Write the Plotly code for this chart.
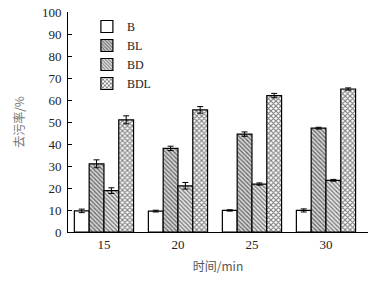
import plotly.graph_objects as go

times = [15, 20, 25, 30]
tick_labels = ["15", "20", "25", "30"]
series_names = ["B", "BL", "BD", "BDL"]
B = [9.6, 9.5, 9.8, 9.8]
BL = [31.0, 38.0, 44.5, 47.2]
BD = [18.8, 21.0, 21.8, 23.5]
BDL = [51.0, 55.5, 62.0, 65.0]
B_err = [0.8, 0.4, 0.3, 0.7]
BL_err = [1.8, 1.0, 1.0, 0.4]
BD_err = [1.3, 1.5, 0.5, 0.4]
BDL_err = [1.8, 1.5, 1.0, 0.5]

values = [B, BL, BD, BDL]
errors = [B_err, BL_err, BD_err, BDL_err]
patterns = [
    dict(shape=""),
    dict(shape="\\", fgcolor="black", bgcolor="#d9d9d9", size=3, solidity=0.45),
    dict(shape="\\", fgcolor="black", bgcolor="#e6e6e6", size=3, solidity=0.4),
    dict(shape="x", fgcolor="black", bgcolor="white", size=3.5, solidity=0.55),
]

fig = go.Figure()
for name, v, e, p in zip(series_names, values, errors, patterns):
    fig.add_trace(go.Bar(
        x=times, y=v, name=name,
        marker=dict(color="white", line=dict(color="black", width=1.2), pattern=p),
        error_y=dict(type="data", array=e, color="black", thickness=1, width=3),
    ))

serif = "'Liberation Serif', 'Times New Roman', serif"
cjk = "'Noto Sans CJK SC', sans-serif"
fig.update_layout(
    width=382, height=281,
    margin=dict(l=68, r=14, t=12, b=49, autoexpand=False),
    paper_bgcolor="white", plot_bgcolor="white",
    barmode="group", bargap=0.2, bargroupgap=0,
    font=dict(family=serif, size=12, color="#222"),
    legend=dict(x=0.063, y=1.0, xanchor="left", yanchor="top",
                font=dict(family=serif, size=12, color="#222"), bgcolor="rgba(0,0,0,0)",
                tracegroupgap=0, itemwidth=30),
    showlegend=True,
)
fig.update_xaxes(
    range=[12.57, 32.84], tickvals=times, ticktext=tick_labels, automargin=False,
    showline=True, linecolor="black", linewidth=1, ticks="", showgrid=False,
    zeroline=False, tickfont=dict(family=serif, size=13, color="#222"),
    title=dict(text="时间/min", font=dict(family=cjk, size=12, color="#555"), standoff=12),
)
fig.update_yaxes(
    range=[0, 100], dtick=10, showline=True, linecolor="black", linewidth=1, automargin=False,
    ticks="inside", ticklen=4, tickcolor="black", showgrid=False, zeroline=False,
    tickfont=dict(family=serif, size=13, color="#222"), ticklabelstandoff=3,
    title=dict(text="去污率/%", font=dict(family=cjk, size=12, color="#777"), standoff=14),
)
fig.write_html("out.html", post_script="document.body.style.margin='0';",
               config={"displayModeBar": False})
